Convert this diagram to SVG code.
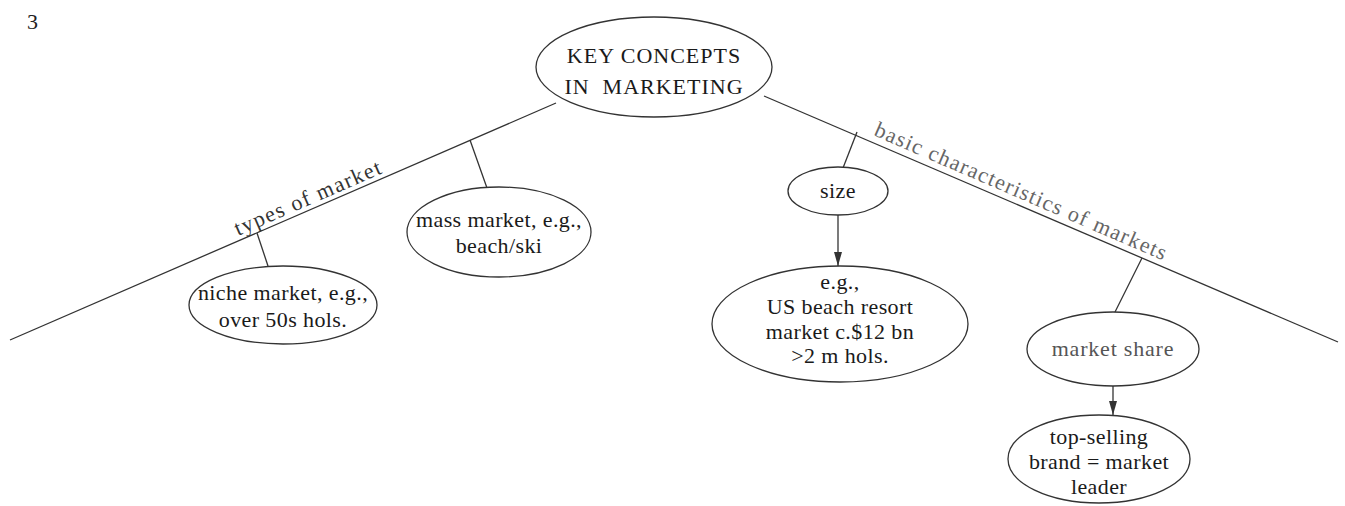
<svg xmlns="http://www.w3.org/2000/svg" width="1345" height="506" viewBox="0 0 1345 506">
<defs>
<style>
.n{fill:#fff;stroke:#333;stroke-width:1.3}
.t{font-family:"Liberation Serif","DejaVu Serif",serif;font-size:22px;letter-spacing:0.4px;fill:#1a1a1a;text-anchor:middle}
.c{stroke:#333;stroke-width:1.3;fill:none}
.lbl{font-family:"Liberation Serif","DejaVu Serif",serif;font-size:22px;fill:#333}
</style>
<marker id="ah" viewBox="0 0 14 10" refX="14" refY="5" markerWidth="14" markerHeight="10" markerUnits="userSpaceOnUse" orient="auto"><path d="M0,1L14,5L0,9z" fill="#333"/></marker>
</defs>
<rect width="1345" height="506" fill="#fff"/>
<text x="27" y="29" class="lbl" style="font-size:22px;fill:#222">3</text>
<g id="connectors">
<line class="c" x1="10" y1="340" x2="556" y2="103"/>
<line class="c" x1="764" y1="96" x2="1338" y2="342"/>
<line class="c" x1="257" y1="233" x2="268" y2="266"/>
<line class="c" x1="470" y1="140" x2="487" y2="188"/>
<line class="c" x1="857" y1="132" x2="843" y2="168"/>
<line class="c" x1="838" y1="215" x2="838" y2="266" marker-end="url(#ah)"/>
<line class="c" x1="1142" y1="258" x2="1115" y2="312"/>
<line class="c" x1="1113" y1="386" x2="1113" y2="415" marker-end="url(#ah)"/>
<text class="lbl" transform="translate(238,236) rotate(-23.5)" style="letter-spacing:1.5px">types of market</text>
<text class="lbl" transform="translate(873,135) rotate(23.4)" style="letter-spacing:1.3px;fill:#666">basic characteristics of markets</text>
</g>
<g id="key">
<ellipse class="n" cx="654" cy="67" rx="118" ry="50"/>
<text class="t" x="654" y="63" style="letter-spacing:1px">KEY CONCEPTS</text>
<text class="t" x="654" y="94" style="letter-spacing:1px" xml:space="preserve">IN  MARKETING</text>
</g>
<g id="niche">
<ellipse class="n" cx="283" cy="305" rx="94" ry="39"/>
<text class="t" x="283" y="300">niche market, e.g.,</text>
<text class="t" x="283" y="327">over 50s hols.</text>
</g>
<g id="mass">
<ellipse class="n" cx="499" cy="232" rx="92" ry="45"/>
<text class="t" x="499" y="227">mass market, e.g.,</text>
<text class="t" x="499" y="253">beach/ski</text>
</g>
<g id="size">
<ellipse class="n" cx="838" cy="191" rx="50" ry="24"/>
<text class="t" x="838" y="198">size</text>
</g>
<g id="example">
<ellipse class="n" cx="840" cy="324" rx="128" ry="58"/>
<text class="t" x="840" y="289">e.g.,</text>
<text class="t" x="840" y="314">US beach resort</text>
<text class="t" x="840" y="339">market c.$12 bn</text>
<text class="t" x="840" y="363">&gt;2 m hols.</text>
</g>
<g id="share">
<ellipse class="n" cx="1113" cy="349" rx="86" ry="37"/>
<text class="t" x="1113" y="356" style="fill:#555;letter-spacing:0.8px">market share</text>
</g>
<g id="leader">
<ellipse class="n" cx="1099" cy="459" rx="91" ry="44"/>
<text class="t" x="1099" y="444">top-selling</text>
<text class="t" x="1099" y="469">brand = market</text>
<text class="t" x="1099" y="494">leader</text>
</g>
</svg>
